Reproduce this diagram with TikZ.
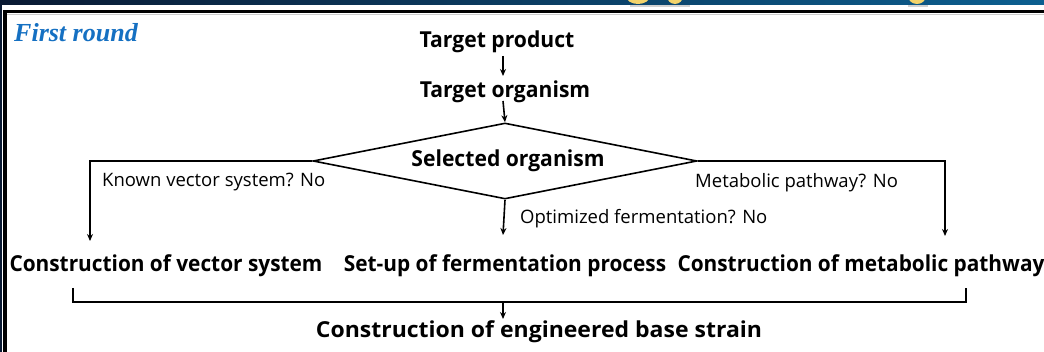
\documentclass[tikz,border=0pt]{standalone}
\usepackage{fontspec}
\usetikzlibrary{shapes.geometric,arrows.meta}
\setmainfont{Open Sans}
\newfontfamily\boldcond[FakeStretch=0.96]{Open Sans Bold}
\newfontfamily\boldrow[FakeStretch=0.947]{Open Sans Bold}
\newfontfamily\boldwide[FakeStretch=1.045]{Open Sans Bold}
\newfontfamily\labelfont{Open Sans}
\newfontfamily\roundfont{Liberation Serif Bold Italic}
\definecolor{navyL}{HTML}{0A1A33}
\definecolor{navyR}{HTML}{0C5F90}
\definecolor{roundblue}{HTML}{1570C2}
\definecolor{titleyellow}{HTML}{F3D36A}
\tikzset{
  stepbox/.style={inner sep=1pt, font=\boldcond\fontsize{22}{26}\selectfont},
  rowbox/.style={inner sep=1pt, font=\boldrow\fontsize{22}{26}\selectfont},
  resultbox/.style={inner sep=1pt, font=\boldwide\fontsize{22}{26}\selectfont},
  cond/.style={inner sep=1pt, anchor=west, font=\labelfont\fontsize{18.5}{22}\selectfont},
  arr/.style={line width=1.6pt, -{Stealth[length=7pt,width=6pt]}},
  link/.style={line width=1.6pt},
  decision/.style={diamond, draw, line width=1.6pt, shape aspect=5, inner sep=0pt,
    minimum width=384pt, minimum height=76pt, font=\boldcond\fontsize{22}{26}\selectfont}
}
\begin{document}
\begin{tikzpicture}[x=1pt,y=-1pt]
\useasboundingbox (0,0) rectangle (1044,352);
% slide header strip with the lower edge of its title
\begin{scope}
  \clip (0,0) rectangle (1044,5);
  \shade[left color=navyL, right color=navyR] (0,0) rectangle (1044,5);
  \fill[titleyellow] (638,-4) ellipse (12 and 8);
  \fill[titleyellow] (675,-4) ellipse (8 and 8);
  \fill[titleyellow] (917,-4) ellipse (9 and 8);
\end{scope}
\fill[gray!35] (630,5) rectangle (690,7);
\fill[gray!35] (908,5) rectangle (928,7);
\fill[navyL] (0,5) rectangle (1.5,352);
% frame of the panel
\draw[line width=3.5pt] (5,352) -- (5,11.5) -- (1044,11.5);
\draw[gray!40, line width=0.8pt] (7,14) -- (1044,14);

\node[anchor=west, inner sep=0pt, text=roundblue, font=\roundfont\fontsize{26}{30}\selectfont] (round) at (14,33) {First round};

\node[stepbox] (tp) at (497,41.5) {Target product};
\node[stepbox] (to) at (505,91.5) {Target organism};
\node[decision] (sel) at (505,161) {\hspace{6pt}\raisebox{1pt}{Selected organism}};

\node[rowbox] (vec) at (166,265.5) {Construction of vector system};
\node[rowbox] (fer) at (505,265.5) {Set-up of fermentation process};
\node[rowbox] (met) at (861,265.5) {Construction of metabolic pathway};
\node[resultbox] (eng) at (539,332) {Construction of engineered base strain};

\node[cond] (qvec) at (101,182.5) {Known vector system? No};
\node[cond] (qmet) at (694,182.5) {Metabolic pathway? No};
\node[cond] (qfer) at (519,218.5) {Optimized fermentation? No};

\coordinate (vecin) at (90,241);
\coordinate (ferin) at (503,235);
\coordinate (metin) at (945,236);
\coordinate (bl) at (73,288);
\coordinate (br) at (966,288);
\coordinate (bm) at (503,302);
\coordinate (engin) at (503,319);

\draw[arr] (503,56) -- (503,76);
\draw[arr] (503,101) -- (sel.north);
\draw[arr] (sel.west) -| (vecin);
\draw[arr] (sel.east) -| (metin);
\draw[arr] (sel.south) -- (ferin);
\draw[link] (bl) -- (73,302) -- (966,302) -- (br);
\draw[arr] (bm) -- (engin);
\end{tikzpicture}
\end{document}
